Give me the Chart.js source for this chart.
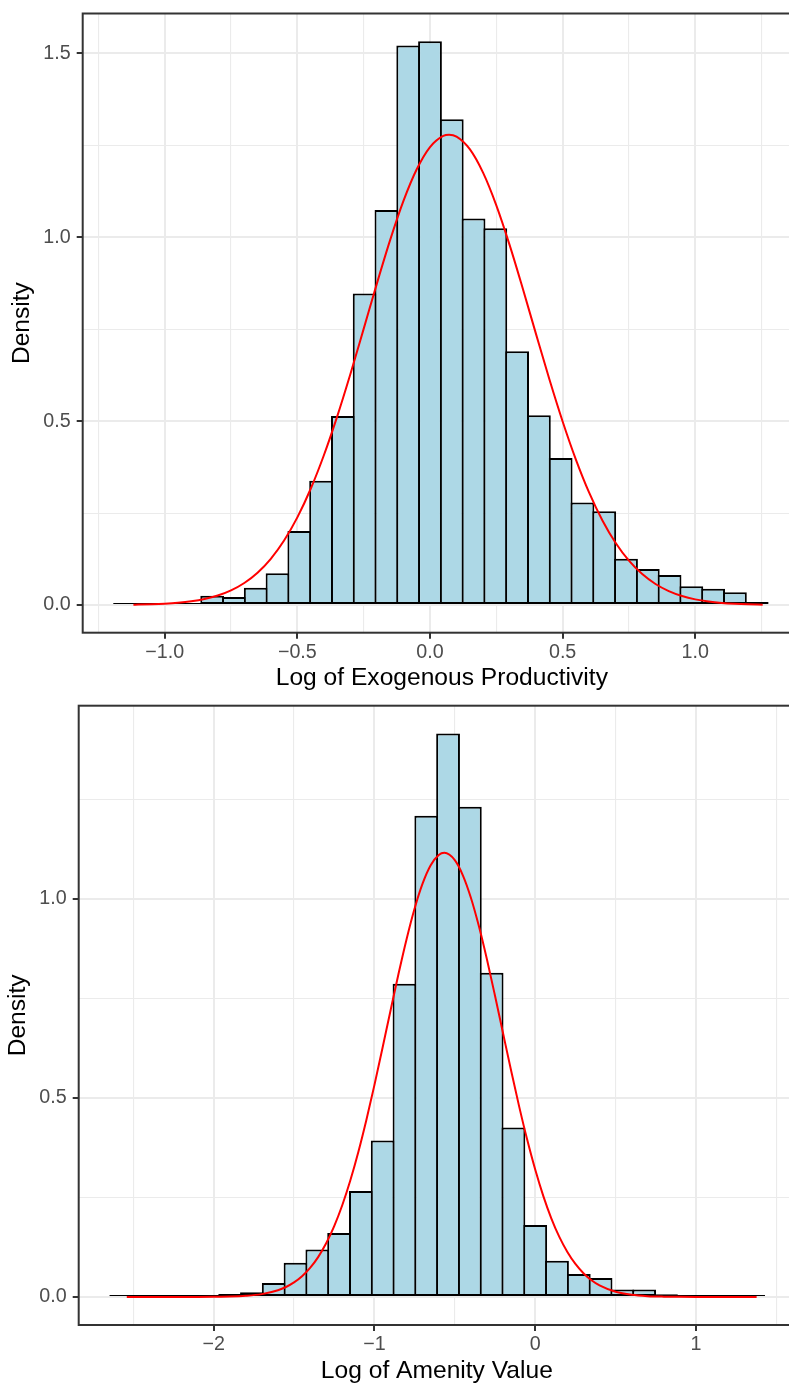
<!DOCTYPE html>
<html>
<head>
<meta charset="utf-8">
<script src="https://cdn.jsdelivr.net/npm/chart.js@4.4.0/dist/chart.umd.min.js"></script>
<style>
  html, body { margin: 0; padding: 0; background: #ffffff; }
  body { width: 789px; height: 1386px; overflow: hidden; position: relative; }
  .panel { position: absolute; left: 0; width: 789px; height: 693px; overflow: hidden; }
  canvas { display: block; }
</style>
</head>
<body>
<div class="panel" style="top:0"><canvas id="prodChart" width="801" height="693" style="width:801px;height:693px"></canvas></div>
<div class="panel" style="top:693px"><canvas id="amenChart" width="795" height="693" style="width:795px;height:693px"></canvas></div>
<script>
// ---- Productivity histogram (density scale), 30 bins ----
const prodBinCenters = [-1.1494, -1.0673, -0.9852, -0.9031, -0.8210, -0.7389, -0.6568, -0.5747, -0.4926, -0.4105,
  -0.3284, -0.2463, -0.1642, -0.0821, 0.0000, 0.0821, 0.1642, 0.2463, 0.3284, 0.4105,
  0.4926, 0.5747, 0.6568, 0.7389, 0.8210, 0.9031, 0.9852, 1.0673, 1.1494, 1.2315];
const prodDensity = [0.005, 0.002, 0.002, 0.004, 0.025, 0.022, 0.047, 0.086, 0.201, 0.338,
  0.514, 0.847, 1.074, 1.521, 1.533, 1.321, 1.051, 1.024, 0.690, 0.516,
  0.400, 0.279, 0.255, 0.126, 0.098, 0.0815, 0.051, 0.044, 0.0345, 0.008];

// fitted normal density for productivity
const prodCurveX = [-1.118, -1.10, -1.05, -1.00, -0.95, -0.90, -0.85, -0.80, -0.75, -0.70, -0.65, -0.60, -0.55, -0.50,
  -0.45, -0.40, -0.35, -0.30, -0.25, -0.20, -0.15, -0.10, -0.05, 0.00, 0.05, 0.072, 0.10, 0.15, 0.20, 0.25, 0.30,
  0.35, 0.40, 0.45, 0.50, 0.55, 0.60, 0.65, 0.70, 0.75, 0.80, 0.85, 0.90, 0.95, 1.00, 1.05, 1.10, 1.15, 1.20, 1.254];
const prodCurveY = [0.0009, 0.0011, 0.0020, 0.0035, 0.0060, 0.0100, 0.0162, 0.0257, 0.0398, 0.0599, 0.0879, 0.1257, 0.1753, 0.2382,
  0.3154, 0.4072, 0.5123, 0.6281, 0.7508, 0.8745, 0.9927, 1.0985, 1.1846, 1.2451, 1.2755, 1.2787, 1.2736, 1.2394, 1.1755, 1.0867, 0.9791,
  0.8597, 0.7358, 0.6138, 0.4990, 0.3954, 0.3054, 0.2299, 0.1687, 0.1206, 0.0840, 0.0571, 0.0378, 0.0244, 0.0153, 0.0094, 0.0056, 0.0033, 0.0019, 0.0010];

const prodXTicks = [-1.25, -1, -0.75, -0.5, -0.25, 0, 0.25, 0.5, 0.75, 1, 1.25];
const prodXLabels = ['', '\u22121.0', '', '\u22120.5', '', '0.0', '', '0.5', '', '1.0', ''];
const prodYTicks = [0, 0.25, 0.5, 0.75, 1, 1.25, 1.5];
const prodYLabels = ['0.0', '', '0.5', '', '1.0', '', '1.5'];

// ---- Amenity histogram (density scale), 30 bins ----
const amenBinCenters = [-2.5745, -2.4390, -2.3035, -2.1680, -2.0325, -1.8970, -1.7615, -1.6260, -1.4905, -1.3550,
  -1.2195, -1.0840, -0.9485, -0.8130, -0.6775, -0.5420, -0.4065, -0.2710, -0.1355, 0.0000,
  0.1355, 0.2710, 0.4065, 0.5420, 0.6775, 0.8130, 0.9485, 1.0840, 1.2195, 1.3550];
const amenDensity = [0.004, 0.002, 0.002, 0.003, 0.005, 0.0075, 0.012, 0.035, 0.086, 0.119,
  0.161, 0.266, 0.393, 0.787, 1.209, 1.416, 1.232, 0.815, 0.426, 0.181,
  0.091, 0.058, 0.048, 0.019, 0.019, 0.0067, 0.003, 0.002, 0.003, 0.003];

// fitted normal density for amenity value
const amenCurveX = [-2.54, -2.4, -2.3, -2.2, -2.1, -2.0, -1.9, -1.8, -1.7, -1.6, -1.55, -1.5, -1.45, -1.4, -1.35, -1.3,
  -1.25, -1.2, -1.15, -1.1, -1.05, -1.0, -0.95, -0.9, -0.85, -0.8, -0.75, -0.7, -0.65, -0.6, -0.565, -0.5, -0.45, -0.4,
  -0.35, -0.3, -0.25, -0.2, -0.15, -0.1, -0.05, 0.0, 0.05, 0.1, 0.15, 0.2, 0.25, 0.3, 0.35, 0.4, 0.5, 0.6, 0.7, 0.8,
  0.9, 1.0, 1.1, 1.2, 1.3, 1.377];
const amenCurveY = [0.0000, 0.0000, 0.0000, 0.0000, 0.0001, 0.0004, 0.0010, 0.0029, 0.0072, 0.0169, 0.0251, 0.0365, 0.0521, 0.0729, 0.1002, 0.1348,
  0.1780, 0.2304, 0.2925, 0.3642, 0.4446, 0.5323, 0.6249, 0.7194, 0.8121, 0.8991, 0.9761, 1.0391, 1.0848, 1.1106, 1.1159, 1.0976, 1.0596, 1.0032,
  0.9313, 0.8479, 0.7569, 0.6626, 0.5689, 0.4789, 0.3954, 0.3201, 0.2541, 0.1978, 0.1510, 0.1131, 0.0830, 0.0598, 0.0422, 0.0292, 0.0132, 0.0055, 0.0021, 0.0008,
  0.0003, 0.0001, 0.0000, 0.0000, 0.0000, 0.0000];

const amenXTicks = [-2.5, -2, -1.5, -1, -0.5, 0, 0.5, 1, 1.5];
const amenXLabels = ['', '\u22122', '', '\u22121', '', '0', '', '1', ''];
const amenYTicks = [0, 0.25, 0.5, 0.75, 1, 1.25];
const amenYLabels = ['0.0', '', '0.5', '', '1.0', ''];

// ---- shared styling ----
const FONT = "'Liberation Sans', Arial, Helvetica, sans-serif";
const GRID = '#EBEBEB';
const INK = '#333333';

const panelBorder = {
  id: 'panelBorder',
  afterDraw(chart) {
    const { ctx, chartArea: a } = chart;
    ctx.save();
    ctx.strokeStyle = INK;
    ctx.lineWidth = 2;
    ctx.strokeRect(a.left, a.top, a.right - a.left, a.bottom - a.top);
    ctx.restore();
  }
};

function axis(ticks, labels, box) {
  const isX = box.kind === 'x';
  return {
    type: 'linear',
    position: isX ? 'bottom' : 'left',
    min: box.min,
    max: box.max,
    bounds: 'data',
    offset: false,
    afterBuildTicks(scale) { scale.ticks = ticks.map(v => ({ value: v })); },
    afterFit(scale) {
      if (isX) { scale.height = box.size; scale.paddingLeft = 0; scale.paddingRight = 0; }
      else { scale.width = box.size; scale.paddingTop = 0; scale.paddingBottom = 0; }
    },
    grid: {
      offset: false,
      color: GRID,
      lineWidth: c => (labels[c.index] ? 2 : 1.1),
      drawTicks: true,
      tickLength: 6,
      tickWidth: 2,
      tickColor: c => (labels[c.index] ? INK : 'rgba(0,0,0,0)')
    },
    border: { display: false },
    ticks: {
      autoSkip: false,
      maxRotation: 0,
      padding: isX ? 3.6 : 6,
      color: '#4D4D4D',
      font: { family: FONT, size: 19.7, lineHeight: 1 },
      callback: (v, i) => labels[i]
    },
    title: {
      display: true,
      text: box.title,
      color: '#000000',
      font: { family: FONT, size: 24.6, lineHeight: 1 },
      padding: isX ? { top: 0, bottom: 2.2 } : { top: box.titlePad, bottom: 0 }
    }
  };
}

function makePanel(id, p) {
  new Chart(document.getElementById(id), {
    type: 'bar',
    data: {
      datasets: [
        {
          type: 'line',
          order: 0,
          data: p.curveX.map((x, i) => ({ x: x, y: p.curveY[i] })),
          borderColor: '#FF0000',
          borderWidth: 2,
          pointRadius: 0,
          fill: false,
          cubicInterpolationMode: 'monotone'
        },
        {
          type: 'bar',
          order: 1,
          data: p.centers.map((x, i) => ({ x: x, y: p.density[i] })),
          backgroundColor: '#ADD8E6',
          borderColor: '#000000',
          borderWidth: 2,
          borderSkipped: false,
          minBarLength: 2,
          categoryPercentage: 1,
          barPercentage: 1.092
        }
      ]
    },
    options: {
      responsive: false,
      animation: false,
      devicePixelRatio: 1,
      layout: { padding: { top: p.padTop, left: 0, right: 0, bottom: 0 } },
      plugins: { legend: { display: false }, tooltip: { enabled: false } },
      scales: {
        x: axis(p.xTicks, p.xLabels, { kind: 'x', min: p.xMin, max: p.xMax, size: p.xSize, title: p.xTitle }),
        y: axis(p.yTicks, p.yLabels, { kind: 'y', min: p.yMin, max: p.yMax, size: p.ySize, title: 'Density', titlePad: p.yTitlePad })
      }
    },
    plugins: [panelBorder]
  });
}

makePanel('prodChart', {
  centers: prodBinCenters, density: prodDensity,
  curveX: prodCurveX, curveY: prodCurveY,
  xTicks: prodXTicks, xLabels: prodXLabels, yTicks: prodYTicks, yLabels: prodYLabels,
  xMin: -1.3091, xMax: 1.3985, yMin: -0.0753, yMax: 1.6082,
  xSize: 60.3, ySize: 82.7, padTop: 13.5, yTitlePad: 10.3,
  xTitle: 'Log of Exogenous Productivity'
});

makePanel('amenChart', {
  centers: amenBinCenters, density: amenDensity,
  curveX: amenCurveX, curveY: amenCurveY,
  xTicks: amenXTicks, xLabels: amenXLabels, yTicks: amenYTicks, yLabels: amenYLabels,
  xMin: -2.839, xMax: 1.6156, yMin: -0.0704, yMax: 1.4857,
  xSize: 61, ySize: 78.7, padTop: 12.7, yTitlePad: 6.3,
  xTitle: 'Log of Amenity Value'
});
</script>
</body>
</html>
